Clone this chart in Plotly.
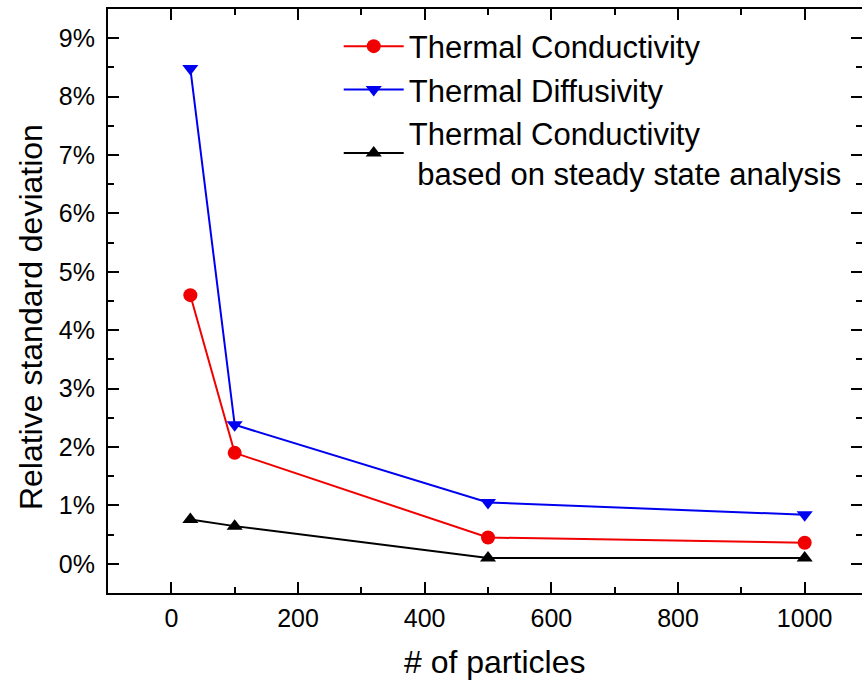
import plotly.graph_objects as go

particles = [30, 100, 500, 1000]
cond = [4.60, 1.90, 0.45, 0.36]
diff = [8.48, 2.38, 1.05, 0.84]
cond_ss = [0.76, 0.645, 0.10, 0.10]

x_ticks = [0, 200, 400, 600, 800, 1000]
y_ticks = [0, 1, 2, 3, 4, 5, 6, 7, 8, 9]
y_ticktext = ["0%", "1%", "2%", "3%", "4%", "5%", "6%", "7%", "8%", "9%"]

names = ["Thermal Conductivity", "Thermal Diffusivity",
         "Thermal Conductivity<br> based on steady state analysis"]
colors = ["#F00000", "#0000F0", "#000000"]
symbols = ["circle", "triangle-down", "triangle-up"]

FONT = "Liberation Sans, Arial, sans-serif"

fig = go.Figure()
for ys, nm, c, s in zip([cond, diff, cond_ss], names, colors, symbols):
    fig.add_trace(go.Scatter(x=particles, y=ys, name=nm, mode="lines+markers",
                             line=dict(color=c, width=2),
                             marker=dict(symbol=s, size=14, color=c)))
# dummy trace to activate right-side tick axis
fig.add_trace(go.Scatter(x=[None], y=[None], yaxis="y2", showlegend=False, hoverinfo="skip"))

tickcommon = dict(ticks="inside", ticklen=11, tickwidth=2, tickcolor="black",
                  showgrid=False, zeroline=False)
fig.update_layout(
    width=862, height=682,
    margin=dict(l=108, r=0, t=9, b=89),
    plot_bgcolor="white", paper_bgcolor="white",
    font=dict(family=FONT, size=25, color="black"),
    xaxis=dict(range=[-100, 1090.5], tickvals=x_ticks, ticklabelstandoff=2,
               showline=True, linecolor="black", linewidth=2, mirror="ticks",
               minor=dict(ticks="inside", ticklen=6, tickwidth=2, tickcolor="black", dtick=100, tick0=0),
               **tickcommon),
    yaxis=dict(range=[-0.5, 9.5], tickvals=y_ticks, ticktext=y_ticktext, ticklabelstandoff=6,
               showline=True, linecolor="black", linewidth=2,
               minor=dict(ticks="inside", ticklen=6, tickwidth=2, tickcolor="black", dtick=0.5, tick0=0),
               **tickcommon),
    yaxis2=dict(range=[-0.5, 9.5], overlaying="y", side="right", showline=False,
                tickvals=y_ticks, showticklabels=False,
                minor=dict(ticks="inside", ticklen=6, tickwidth=2, tickcolor="black", dtick=0.5, tick0=0),
                **tickcommon),
    legend=dict(x=0.306, y=0.982, xanchor="left", yanchor="top",
                font=dict(size=31), bgcolor="rgba(0,0,0,0)", tracegroupgap=0,
                itemwidth=60),
    showlegend=True,
    annotations=[
        dict(text="# of particles", xref="paper", yref="paper", x=0.512, y=-0.118,
             xanchor="center", yanchor="middle", showarrow=False, font=dict(size=32)),
        dict(text="Relative standard deviation", xref="paper", yref="paper", x=-0.103, y=0.473,
             xanchor="center", yanchor="middle", textangle=-90, showarrow=False, font=dict(size=32)),
    ],
)
fig.write_html("out.html")
